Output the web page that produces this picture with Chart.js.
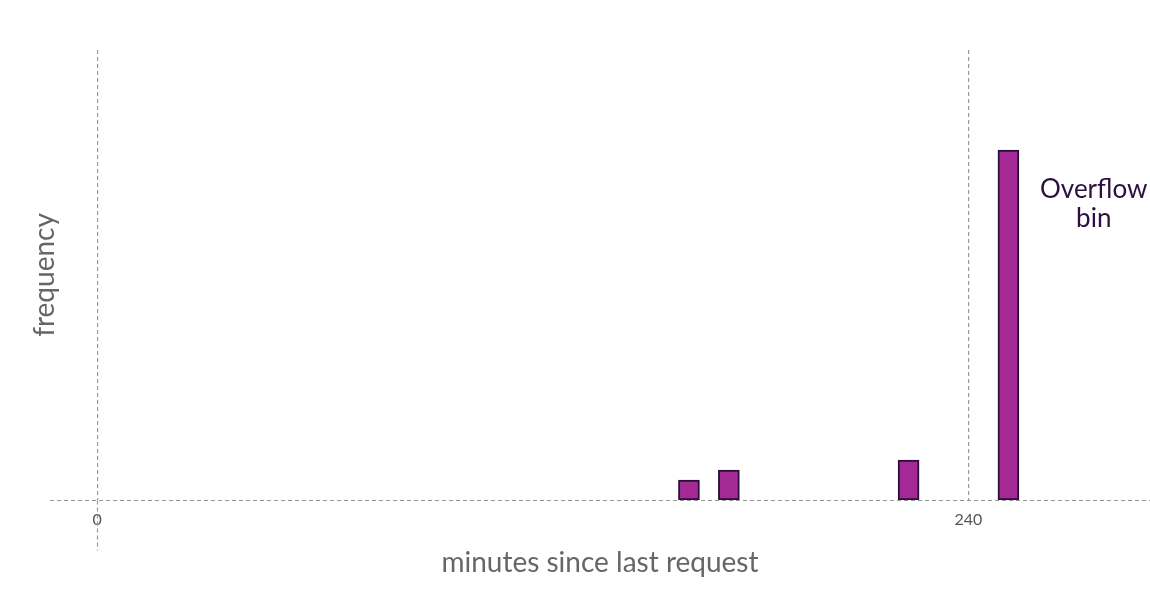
<!DOCTYPE html>
<html>
<head>
<meta charset="utf-8">
<script src="https://cdn.jsdelivr.net/npm/chart.js@4.4.1/dist/chart.umd.min.js"></script>
<style>
  html, body { margin: 0; padding: 0; background: #fff; }
  #wrap { width: 1150px; height: 600px; }
</style>
</head>
<body>
<div id="wrap"><canvas id="histChart"></canvas></div>
<script>
// histogram bins (bin centre in minutes) and counts
const binCenters = [163, 174, 223.5, 251];
const counts = [2, 3, 4, 35];
const xTicks = [0, 240];
const noteLines = ["Overflow", "bin"];
const notePos = { x: 274.5, y: 31 };

const FONT = "Lato, 'Open Sans', sans-serif";

const overflowNote = {
  id: "overflowNote",
  beforeDatasetsDraw(chart) {
    const { ctx, chartArea, scales: { x, y } } = chart;
    ctx.save();
    ctx.strokeStyle = "#999";
    ctx.lineWidth = 1.2;
    ctx.setLineDash([4, 3]);
    // dashed baseline
    const yb = Math.round(y.getPixelForValue(0)) + 0.5;
    ctx.beginPath();
    ctx.moveTo(chartArea.left, yb);
    ctx.lineTo(chartArea.right, yb);
    ctx.stroke();
    // zero line keeps going below the x axis
    const x0 = Math.round(x.getPixelForValue(0)) + 0.5;
    ctx.beginPath();
    ctx.moveTo(x0, yb);
    ctx.lineTo(x0, yb + 50);
    ctx.stroke();
    ctx.restore();
  },
  afterDraw(chart) {
    const { ctx, scales: { x, y } } = chart;
    ctx.save();
    ctx.fillStyle = "#2d0f3f";
    ctx.font = "26px " + FONT;
    ctx.textAlign = "center";
    ctx.textBaseline = "middle";
    const px = x.getPixelForValue(notePos.x);
    const py = y.getPixelForValue(notePos.y);
    noteLines.forEach((t, i) => ctx.fillText(t, px, py + i * 29));
    ctx.restore();
  }
};

new Chart(document.getElementById("histChart"), {
  type: "bar",
  data: {
    datasets: [{
      data: binCenters.map((c, i) => ({ x: c, y: counts[i] })),
      backgroundColor: "#a52a95",
      borderColor: "#2b0f3a",
      borderWidth: 2,
      borderSkipped: false,
      barThickness: 21
    }]
  },
  options: {
    responsive: true,
    maintainAspectRatio: false,
    animation: false,
    layout: { padding: { top: 50, right: 0, left: 0, bottom: 0 } },
    plugins: { legend: { display: false }, tooltip: { enabled: false } },
    scales: {
      x: {
        type: "linear",
        min: -13,
        max: 290,
        offset: false,
        afterBuildTicks: s => { s.ticks = xTicks.map(v => ({ value: v })); },
        afterFit: s => { s.height = 100; },
        grid: {
          offset: false,
          color: "#999",
          lineWidth: 1.2,
          drawTicks: false
        },
        border: { display: false, dash: [4, 3] },
        ticks: { color: "#555", padding: 10, font: { family: FONT, size: 16 } },
        title: {
          display: true,
          text: "minutes since last request",
          color: "#666",
          font: { family: FONT, size: 28 },
          padding: { top: 0, bottom: 20 }
        }
      },
      y: {
        min: 0,
        max: 45,
        afterFit: s => { s.width = 50; },
        grid: { display: false },
        border: { display: false },
        ticks: { display: false },
        title: {
          display: true,
          text: "frequency",
          color: "#666",
          font: { family: FONT, size: 28 },
          padding: { top: 28, bottom: 0 }
        }
      }
    }
  },
  plugins: [overflowNote]
});
</script>
</body>
</html>
